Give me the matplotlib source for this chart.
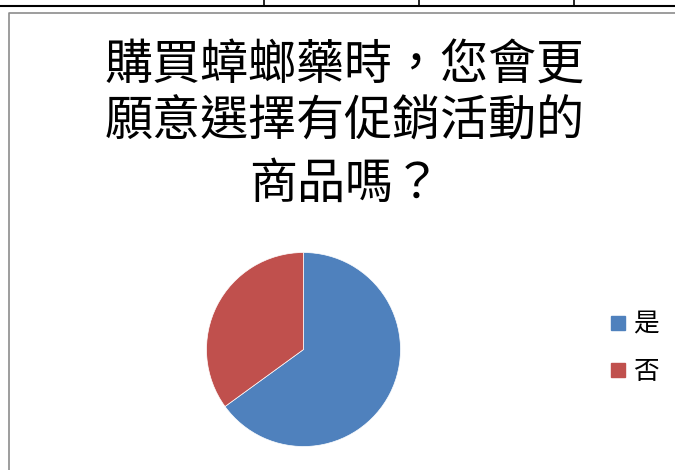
import matplotlib
matplotlib.use('Agg')
import matplotlib.pyplot as plt
from matplotlib.lines import Line2D

plt.rcParams['font.family'] = ['Noto Sans CJK TC', 'DejaVu Sans']

title_lines = ['購買蟑螂藥時，您會更', '願意選擇有促銷活動的', '商品嗎？']
answers = ['是', '否']
counts = [65, 35]
colors = ['#4F81BD', '#C0504D']

W, H = 675, 470
fig = plt.figure(figsize=(W / 100, H / 100), dpi=100)

def fx(px):
    return px / W

def fy(py):
    return 1 - py / H

# table rule above the chart
fig.add_artist(Line2D([0, 1], [fy(6), fy(6)], color='black', lw=1.5))
for xc in (264, 418.5, 573.5):
    fig.add_artist(Line2D([fx(xc), fx(xc)], [fy(6), 1], color='black', lw=1.2))

# chart frame (only left and top edges are visible)
fig.add_artist(Line2D([fx(9), fx(9), 1], [0, fy(12.5), fy(12.5)], color='#8c8c8c', lw=1.2))

# title
for text, yc in zip(title_lines, (65.5, 121.5, 184)):
    fig.text(fx(345), fy(yc), text, ha='center', va='center', fontsize=34.6,
             fontweight='medium')

# pie
cx, cy, r = 303.5, 349.5, 97
ax = fig.add_axes([fx(cx - r), fy(cy + r), 2 * r / W, 2 * r / H])
wedges, _ = ax.pie(counts, colors=colors, startangle=90, counterclock=False,
                   wedgeprops=dict(edgecolor='white', linewidth=0.5))
ax.set_xlim(-1, 1)
ax.set_ylim(-1, 1)
ax.set_aspect('equal')
ax.axis('off')

handles = [Line2D([], [], marker='s', linestyle='none', markersize=10,
                  markerfacecolor=c, markeredgecolor=c) for c in colors]
fig.legend(handles, answers, loc='center left', bbox_to_anchor=(fx(609), fy(348.5)),
           frameon=False, fontsize=18.5, handlelength=0.7, handletextpad=0.25,
           labelspacing=0.85, borderaxespad=0, borderpad=0)

fig.savefig('out.png', dpi=100)
